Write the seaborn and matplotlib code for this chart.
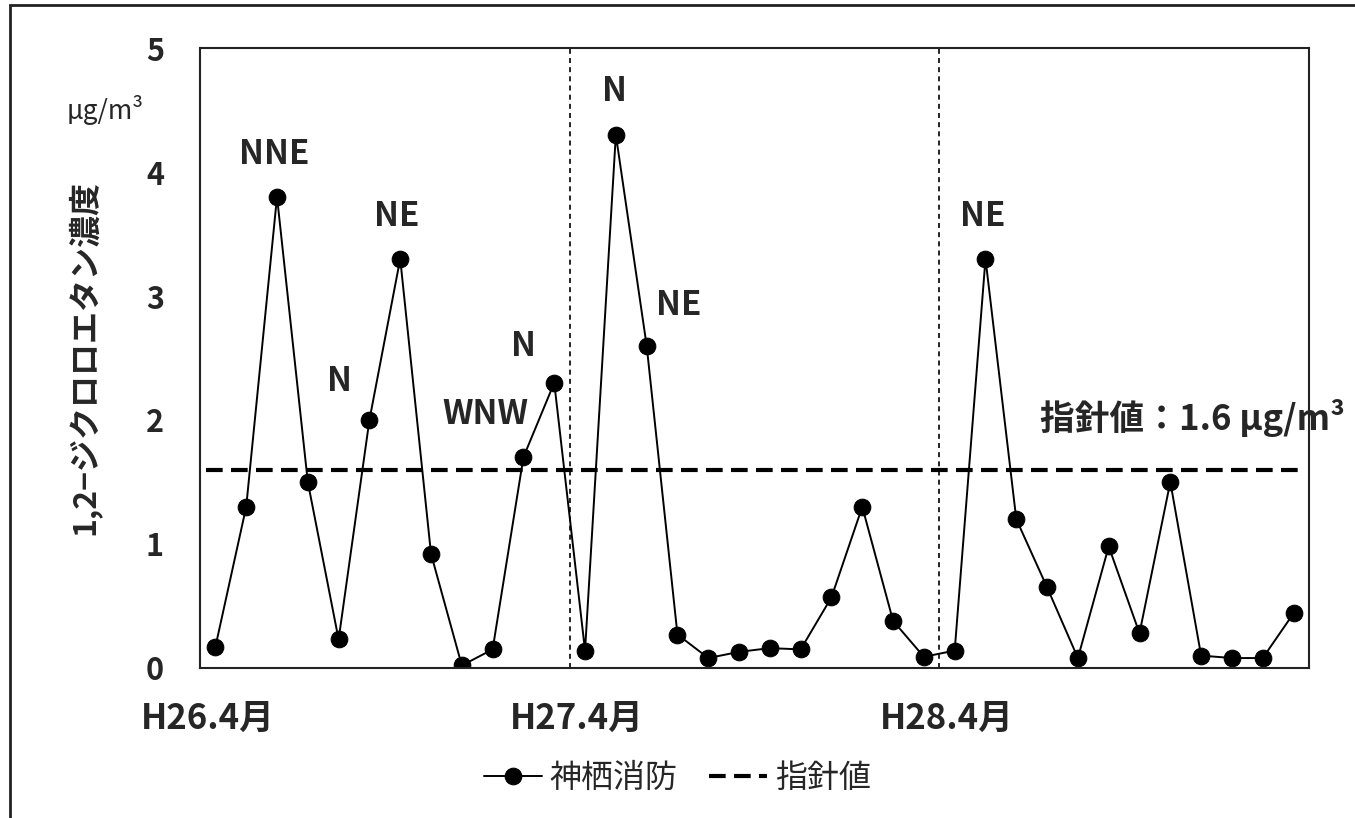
import matplotlib
matplotlib.use("Agg")
import matplotlib.pyplot as plt
from matplotlib.patches import Rectangle
from matplotlib.transforms import ScaledTranslation
import seaborn as sns
import pandas as pd

# monthly 1,2-dichloroethane at 神栖消防 (H26.4 - H29.3)
values = [0.17, 1.30, 3.80, 1.50, 0.23, 2.00, 3.30, 0.92, 0.02, 0.15, 1.70, 2.30,
          0.14, 4.30, 2.60, 0.27, 0.08, 0.13, 0.16, 0.15, 0.57, 1.30, 0.38, 0.09,
          0.14, 3.30, 1.20, 0.65, 0.08, 0.98, 0.28, 1.50, 0.10, 0.08, 0.08, 0.44]
year_starts = [0, 12, 24]
year_labels = ["H26.4月", "H27.4月", "H28.4月"]
guide_value = 1.6
# wind direction notes: (month index, label, text offset in pixels)
wind_notes = [(2, "NNE", (-3, 42)), (5, "N", (-30, 38)), (6, "NE", (-3, 42)),
              (10, "WNW", (-38, 43)), (11, "N", (-31, 36)), (13, "N", (-1, 43)),
              (14, "NE", (32, 40)), (25, "NE", (-3, 42))]

df = pd.DataFrame({"month": range(len(values)), "conc": values})

sns.set_style("white")
plt.rcParams['font.family'] = ['Noto Sans CJK JP', 'DejaVu Sans']

fig = plt.figure(figsize=(13.55, 8.18), dpi=100)
ax = fig.add_axes([0.1476, 0.1834, 0.8184, 0.7579])

sns.lineplot(data=df, x="month", y="conc", ax=ax, color="black", linewidth=1.4,
             marker="o", markersize=12, markeredgecolor="black", label="神栖消防")
ax.axhline(guide_value, xmin=0.005, xmax=0.99, color="black", linewidth=3,
           dashes=(4, 2), label="指針値")
for s in year_starts[1:]:
    ax.axvline(s - 0.5, color="black", linewidth=1.2, dashes=(3, 2.5))

for i, lab, off in wind_notes:
    ax.annotate(lab, xy=(i, values[i]), xytext=off, textcoords="offset pixels",
                ha="center", va="center", fontsize=24, fontweight="bold")

ax.annotate("指針値：1.6 μg/m³", xy=(1, guide_value),
            xycoords=ax.get_yaxis_transform(), xytext=(36, 52),
            textcoords="offset pixels", ha="right", va="center",
            fontsize=25, fontweight="bold", annotation_clip=False)

ax.set_xlim(-0.5, len(values) - 0.5)
ax.set_ylim(0, 5)
ax.set_xticks(year_starts)
ax.set_xticklabels(year_labels, fontsize=25, fontweight="bold")
ax.set_yticks(range(6))
ax.set_yticklabels([str(v) for v in range(6)], fontsize=22, fontweight="bold")
ax.tick_params(axis="y", direction="in", length=8.5, width=1.2, pad=26)
ax.tick_params(axis="x", length=0, pad=24)
shift = ScaledTranslation(-8 / 100, 0, fig.dpi_scale_trans)
for t in ax.get_xticklabels():
    t.set_transform(t.get_transform() + shift)
ax.set_xlabel("")
ax.set_ylabel("1,2−ジクロロエタン濃度", fontsize=23, fontweight="bold")
ax.yaxis.set_label_coords(-0.09, 0.5)
for sp in ax.spines.values():
    sp.set_color("#222222")
    sp.set_linewidth(1.5)

fig.text(105 / 1355, 1 - 110 / 818, "μg/m³", fontsize=19, ha="center", va="center")

ax.get_legend().remove()
handles, labels = ax.get_legend_handles_labels()
fig.legend(handles, labels, loc="center", bbox_to_anchor=(0.5, 0.049), ncol=2,
           frameon=False, fontsize=23, handlelength=1.8, handletextpad=0.25,
           columnspacing=1.0)

# outer frame of the original figure
fig.patches.append(Rectangle((10 / 1355, -0.1), 1.2, 1.1 - 5 / 818,
                             transform=fig.transFigure, fill=False,
                             edgecolor="#222222", linewidth=2))

fig.savefig("out.png", dpi=100)
